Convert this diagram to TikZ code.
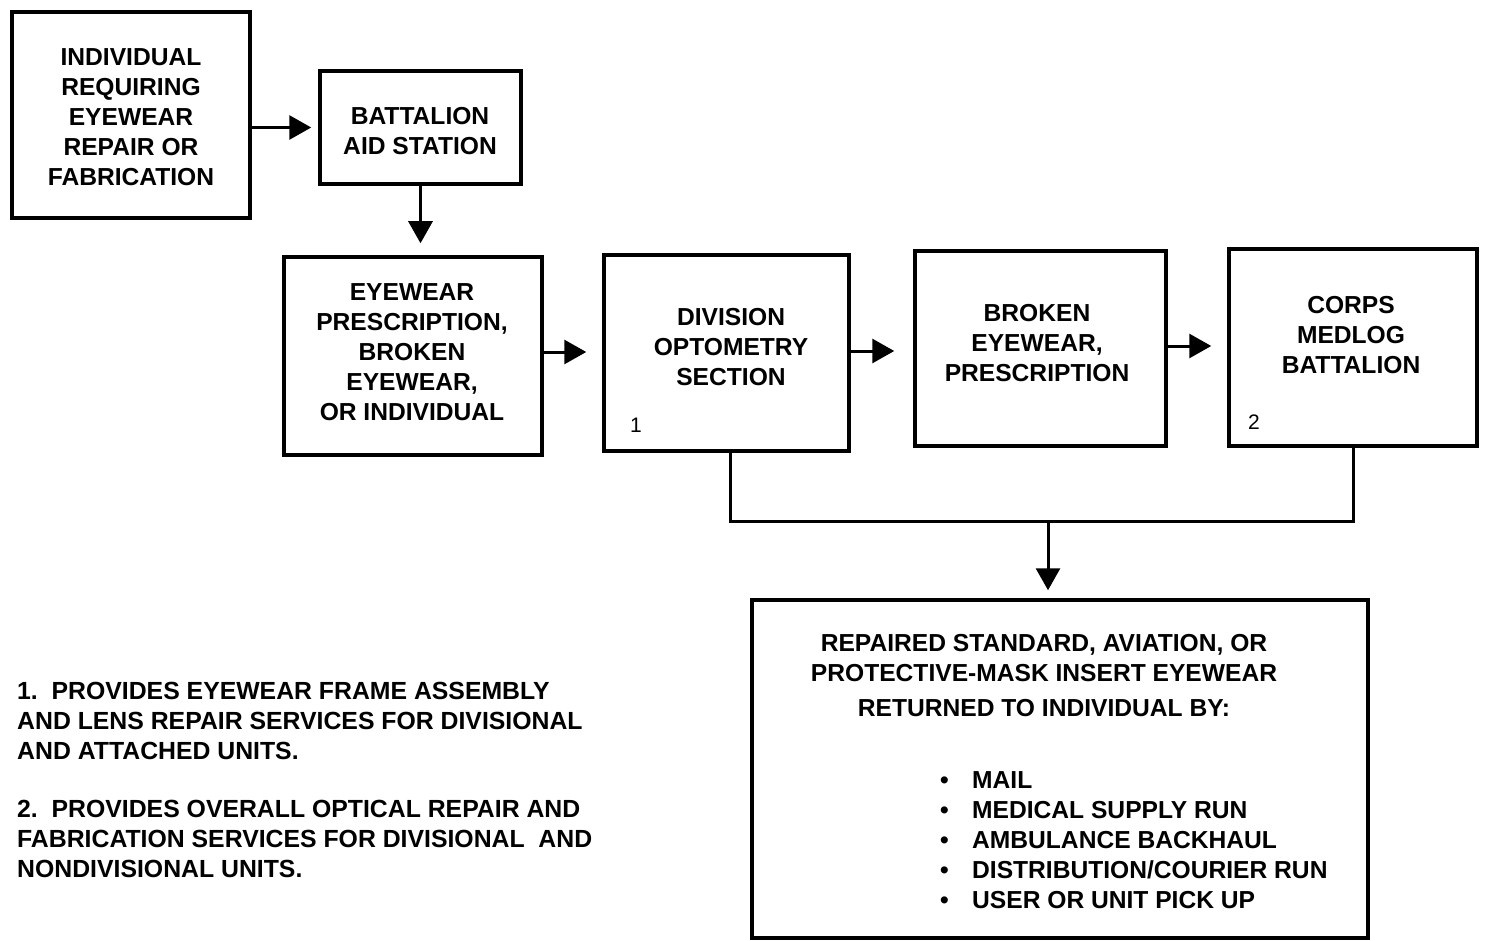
\documentclass[tikz,border=0pt]{standalone}
\usepackage{fontspec}
\setmainfont{Liberation Sans}
\usetikzlibrary{arrows.meta}
\begin{document}
\begin{tikzpicture}[x=1pt,y=-1pt,
  box/.style={draw,line width=3.5pt,rectangle,inner sep=0pt},
  txt/.style={align=center,inner sep=0pt,font=\fontsize{24.6}{30}\selectfont\bfseries},
  note/.style={align=left,inner sep=0pt,font=\fontsize{24.8}{30}\selectfont\bfseries},
  num/.style={inner sep=0pt,font=\fontsize{21}{25}\selectfont},
  conn/.style={line width=3pt},
  arr/.style={line width=3pt,-{Triangle[length=22pt,width=24pt]}}]
\useasboundingbox (0,0) rectangle (1485,941);

\node[box,minimum width=238pt,minimum height=206pt] (A) at (131,115) {};
\node[box,minimum width=201pt,minimum height=113pt] (B) at (420.5,127.5) {};
\node[box,minimum width=258pt,minimum height=198pt] (C) at (413,356) {};
\node[box,minimum width=245pt,minimum height=196pt] (D) at (726.5,353) {};
\node[box,minimum width=251pt,minimum height=195pt] (E) at (1040.5,348.5) {};
\node[box,minimum width=248pt,minimum height=197pt] (F) at (1353,347.5) {};
\node[box,minimum width=616pt,minimum height=338pt] (G) at (1060,769) {};

\node[txt] (tA) at (131,117) {INDIVIDUAL\\REQUIRING\\EYEWEAR\\REPAIR OR\\FABRICATION};
\node[txt] (tB) at (420,131) {BATTALION\\AID STATION};
\node[txt] (tC) at (412,352) {EYEWEAR\\PRESCRIPTION,\\BROKEN\\EYEWEAR,\\OR INDIVIDUAL};
\node[txt] (tD) at (731,347) {DIVISION\\OPTOMETRY\\SECTION};
\node[txt] (tE) at (1037,343) {BROKEN\\EYEWEAR,\\PRESCRIPTION};
\node[txt] (tF) at (1351,335) {CORPS\\MEDLOG\\BATTALION};
\node[num] (n1) at (636,425) {1};
\node[num] (n2) at (1254,422) {2};

\node[txt] (tG) at (1044,675.5) {REPAIRED STANDARD, AVIATION, OR\\PROTECTIVE-MASK INSERT EYEWEAR\\[5pt]RETURNED TO INDIVIDUAL BY:};
\node[txt,align=left,anchor=west] (tL) at (940,840.5) {\makebox[32pt][l]{•}MAIL\\\makebox[32pt][l]{•}MEDICAL SUPPLY RUN\\\makebox[32pt][l]{•}AMBULANCE BACKHAUL\\\makebox[32pt][l]{•}DISTRIBUTION/COURIER RUN\\\makebox[32pt][l]{•}USER OR UNIT PICK UP};

\node[note,anchor=west] (f1) at (17,721) {1.\ \ PROVIDES EYEWEAR FRAME ASSEMBLY\\AND LENS REPAIR SERVICES FOR DIVISIONAL\\AND ATTACHED UNITS.};
\node[note,anchor=west] (f2) at (17,839) {2.\ \ PROVIDES OVERALL OPTICAL REPAIR AND\\FABRICATION SERVICES FOR DIVISIONAL\ \ AND\\NONDIVISIONAL UNITS.};

\draw[arr,shorten >=7pt] (A.east |- B.west) -- (B.west);
\draw[arr,shorten >=12pt] (B.south) -- (B.south |- C.north);
\draw[arr,shorten >=16pt] ([yshift=4pt]C.east) -- ([yshift=4pt]D.west |- C.east);
\draw[arr,shorten >=19pt] ([yshift=2pt]D.east) -- ([yshift=2pt]E.west |- D.east);
\draw[arr,shorten >=16pt] ([yshift=2.5pt]E.east) -- ([yshift=2.5pt]F.west |- E.east);
\coordinate (bar) at (1048,521);
\draw[conn] ([xshift=3.5pt]D.south) -- ([xshift=3.5pt]D.south |- bar) -- (F.south |- bar) -- (F.south);
\draw[arr,shorten >=8pt] (bar) -- (bar |- G.north);
\end{tikzpicture}
\end{document}
